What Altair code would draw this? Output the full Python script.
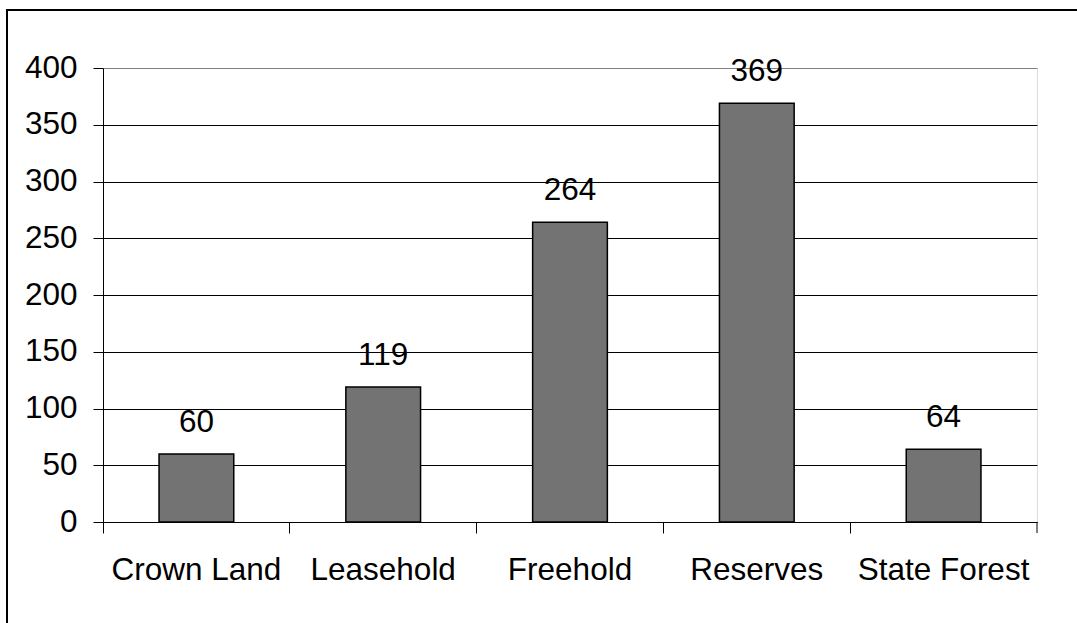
import altair as alt
import pandas as pd

categories = ["Crown Land", "Leasehold", "Freehold", "Reserves", "State Forest"]
values = [60, 119, 264, 369, 64]
y_ticks = [0, 50, 100, 150, 200, 250, 300, 350, 400]

df = pd.DataFrame({"category": categories, "value": values})

W, H = 934, 454
FONT = "Liberation Sans"
FS = 31.5

x = alt.X("category:N", sort=categories, title=None,
          scale=alt.Scale(paddingInner=0, paddingOuter=0),
          axis=alt.Axis(labelAngle=0, labelFontSize=FS, labelFont=FONT, labelColor="black",
                        domainColor="black", tickColor="black", tickSize=11,
                        bandPosition=0, labelPadding=21, grid=False))
y = alt.Y("value:Q", title=None,
          scale=alt.Scale(domain=[0, 400], nice=False),
          axis=alt.Axis(values=y_ticks, labelFontSize=FS, labelFont=FONT, labelColor="black",
                        domainColor="black", tickColor="black", tickSize=10, labelPadding=16,
                        gridColor=alt.condition("datum.value >= 400", alt.value("#808080"), alt.value("black")),
                        gridOpacity=1))

frame = alt.Chart(alt.Data(values=[{}])).mark_rect(
    fill="transparent", stroke="black", strokeWidth=2
).encode(x=alt.value(-96), x2=alt.value(1100), y=alt.value(-58), y2=alt.value(700))

bars = alt.Chart(df).mark_bar(
    width=alt.RelativeBandSize(0.4), color="#737373", stroke="black", strokeWidth=1.5
).encode(x=x, y=y)

labels = alt.Chart(df).mark_text(
    baseline="bottom", dy=-15, fontSize=FS, font=FONT, color="black"
).encode(x=alt.X("category:N", sort=categories), y="value:Q", text="value:Q")

end_tick = alt.Chart(alt.Data(values=[{}])).mark_rule(color="black").encode(
    x=alt.value(W), y=alt.value(H), y2=alt.value(H + 11))

chart = alt.layer(frame, bars, labels, end_tick).properties(
    width=W, height=H,
    autosize=alt.AutoSizeParams(type="none"),
    padding={"left": 103, "top": 68, "right": 40, "bottom": 101},
).configure_view(stroke="#808080", strokeWidth=1).configure(background="white")

chart.save("out.html", embed_options={"renderer": "svg", "actions": False})
